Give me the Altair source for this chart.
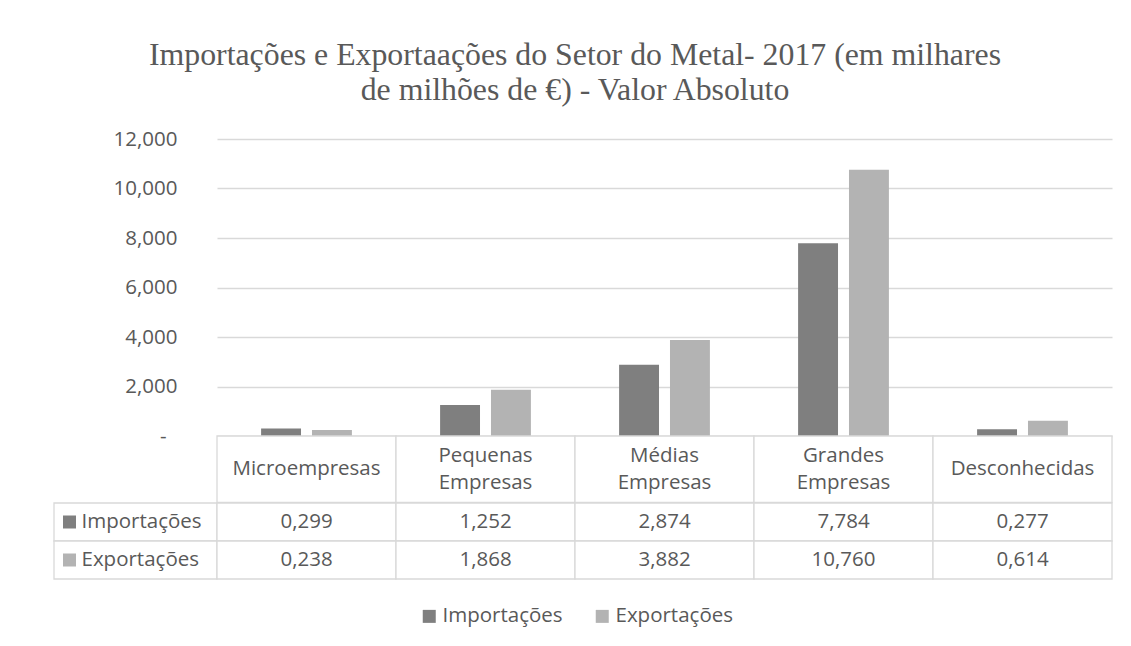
import altair as alt
import pandas as pd

# ---- data ----
categories = ["Microempresas", "Pequenas Empresas", "Médias Empresas", "Grandes Empresas", "Desconhecidas"]
header_labels = ["Microempresas", "Pequenas\nEmpresas", "Médias\nEmpresas", "Grandes\nEmpresas", "Desconhecidas"]
series = ["Importações", "Exportações"]
importacoes = [0.299, 1.252, 2.874, 7.784, 0.277]
exportacoes = [0.238, 1.868, 3.882, 10.760, 0.614]
y_ticks = [0, 2, 4, 6, 8, 10, 12]
title_lines = ["Importações e Exportaações do Setor do Metal- 2017 (em milhares",
               "de milhões de €) - Valor Absoluto"]

# ---- style ----
colors = ["#7f7f7f", "#b3b3b3"]
TEXT = "#595959"
GRID = "#d9d9d9"
FONT = "Open Sans"
FS = 20.5
LH = 27

PLOT_W = 895
COL0_W = 163
BAR_H = 297
HEAD_H = 66.5
ROWS_H = 76

rows = []
for s, vals in zip(series, [importacoes, exportacoes]):
    for c, h, v in zip(categories, header_labels, vals):
        rows.append({"categoria": c, "cabecalho": h, "serie": s, "valor": v})
df = pd.DataFrame(rows)
head_df = pd.DataFrame({"categoria": categories, "cabecalho": header_labels})
lab_df = pd.DataFrame({"serie": series})

x_scale = alt.Scale(domain=categories, paddingInner=0, paddingOuter=0)
row_scale = alt.Scale(domain=series, paddingInner=0, paddingOuter=0)
color_scale = alt.Scale(domain=series, range=colors)
y_scale = alt.Scale(domain=[0, 12], nice=False)
fmt = "replace(format(datum.value, '.3f'), '.', ',')"
label_style = dict(labelFont=FONT, labelFontSize=FS, labelColor=TEXT, title=None,
                   domain=False, ticks=False)

X = alt.X("categoria:N", scale=x_scale, axis=None, sort=categories)

base = alt.Chart(df).encode(
    x=X,
    xOffset=alt.XOffset("serie:N", sort=series,
                        scale=alt.Scale(domain=series, paddingInner=0.2157, paddingOuter=0.8666)),
)

bars = base.mark_bar().encode(
    y=alt.Y("valor:Q", scale=y_scale,
            axis=alt.Axis(values=y_ticks, orient="left", grid=True, gridColor=GRID, gridWidth=1.3,
                          labelPadding=40, labelExpr="datum.value == 0 ? '' : " + fmt,
                          **label_style)),
    color=alt.Color("serie:N", scale=color_scale, sort=series,
                    legend=alt.Legend(orient="none", legendX=365, legendY=467, direction="horizontal",
                                      title=None, symbolType="square", symbolSize=169,
                                      symbolStrokeWidth=0, labelFont=FONT, labelFontSize=FS,
                                      labelColor=TEXT, labelOffset=3, columnPadding=29)),
)

# zero label drawn as an accounting dash, slightly indented like Excel
zero_axis = base.mark_bar(opacity=0).encode(
    y=alt.Y("valor:Q", scale=y_scale,
            axis=alt.Axis(values=[0], orient="left", grid=False, labelPadding=51,
                          labelExpr="'-'", **label_style)),
)

bar_chart = alt.layer(bars, zero_axis).resolve_axis(y="independent").properties(
    width=PLOT_W, height=BAR_H)

cell = dict(fill="white", stroke=GRID, strokeWidth=1.3)
head_text = dict(font=FONT, fontSize=FS, color=TEXT, lineBreak="\n", lineHeight=LH, baseline="middle")

header = alt.layer(
    alt.Chart(head_df).mark_rect(**cell).encode(x=X),
    alt.Chart(head_df).transform_filter("indexof(datum.cabecalho, '\\n') < 0")
        .mark_text(**head_text).encode(x=X, text="cabecalho:N"),
    alt.Chart(head_df).transform_filter("indexof(datum.cabecalho, '\\n') >= 0")
        .mark_text(dy=-LH / 2, **head_text).encode(x=X, text="cabecalho:N"),
).properties(width=PLOT_W, height=HEAD_H)

Yrow = alt.Y("serie:N", scale=row_scale, axis=None, sort=series)

values = alt.layer(
    alt.Chart(df).mark_rect(**cell).encode(x=X, y=Yrow),
    alt.Chart(df).transform_calculate(
        rotulo="replace(format(datum.valor, '.3f'), '.', ',')"
    ).mark_text(font=FONT, fontSize=FS, color=TEXT).encode(x=X, y=Yrow, text="rotulo:N"),
).properties(width=PLOT_W, height=ROWS_H)

labels = alt.layer(
    alt.Chart(lab_df).mark_rect(**cell).encode(y=Yrow),
    alt.Chart(lab_df).mark_square(size=169, opacity=1, xOffset=-66).encode(
        y=Yrow, color=alt.Color("serie:N", scale=color_scale, sort=series, legend=None)),
    alt.Chart(lab_df).mark_text(font=FONT, fontSize=FS, color=TEXT, align="left", dx=-54).encode(
        y=Yrow, text="serie:N"),
).properties(width=COL0_W, height=ROWS_H)

ph1 = alt.Chart(lab_df).mark_point(opacity=0).properties(width=COL0_W, height=BAR_H)
ph2 = alt.Chart(lab_df).mark_point(opacity=0).properties(width=COL0_W, height=HEAD_H)

chart = alt.concat(
    ph1, bar_chart, ph2, header, labels, values, columns=2, spacing=0, bounds="flush"
).resolve_scale(
    x="independent", y="independent", color="shared"
).properties(
    title=alt.Title(title_lines, font="Liberation Serif", fontSize=31.8, fontWeight="normal",
                    color=TEXT, anchor="middle", lineHeight=35, offset=22.5, dx=-8),
    padding={"left": 45, "top": 31, "right": 10, "bottom": 10},
).configure_view(stroke=None)

chart.save("out.html", embed_options={"renderer": "svg", "actions": False})
